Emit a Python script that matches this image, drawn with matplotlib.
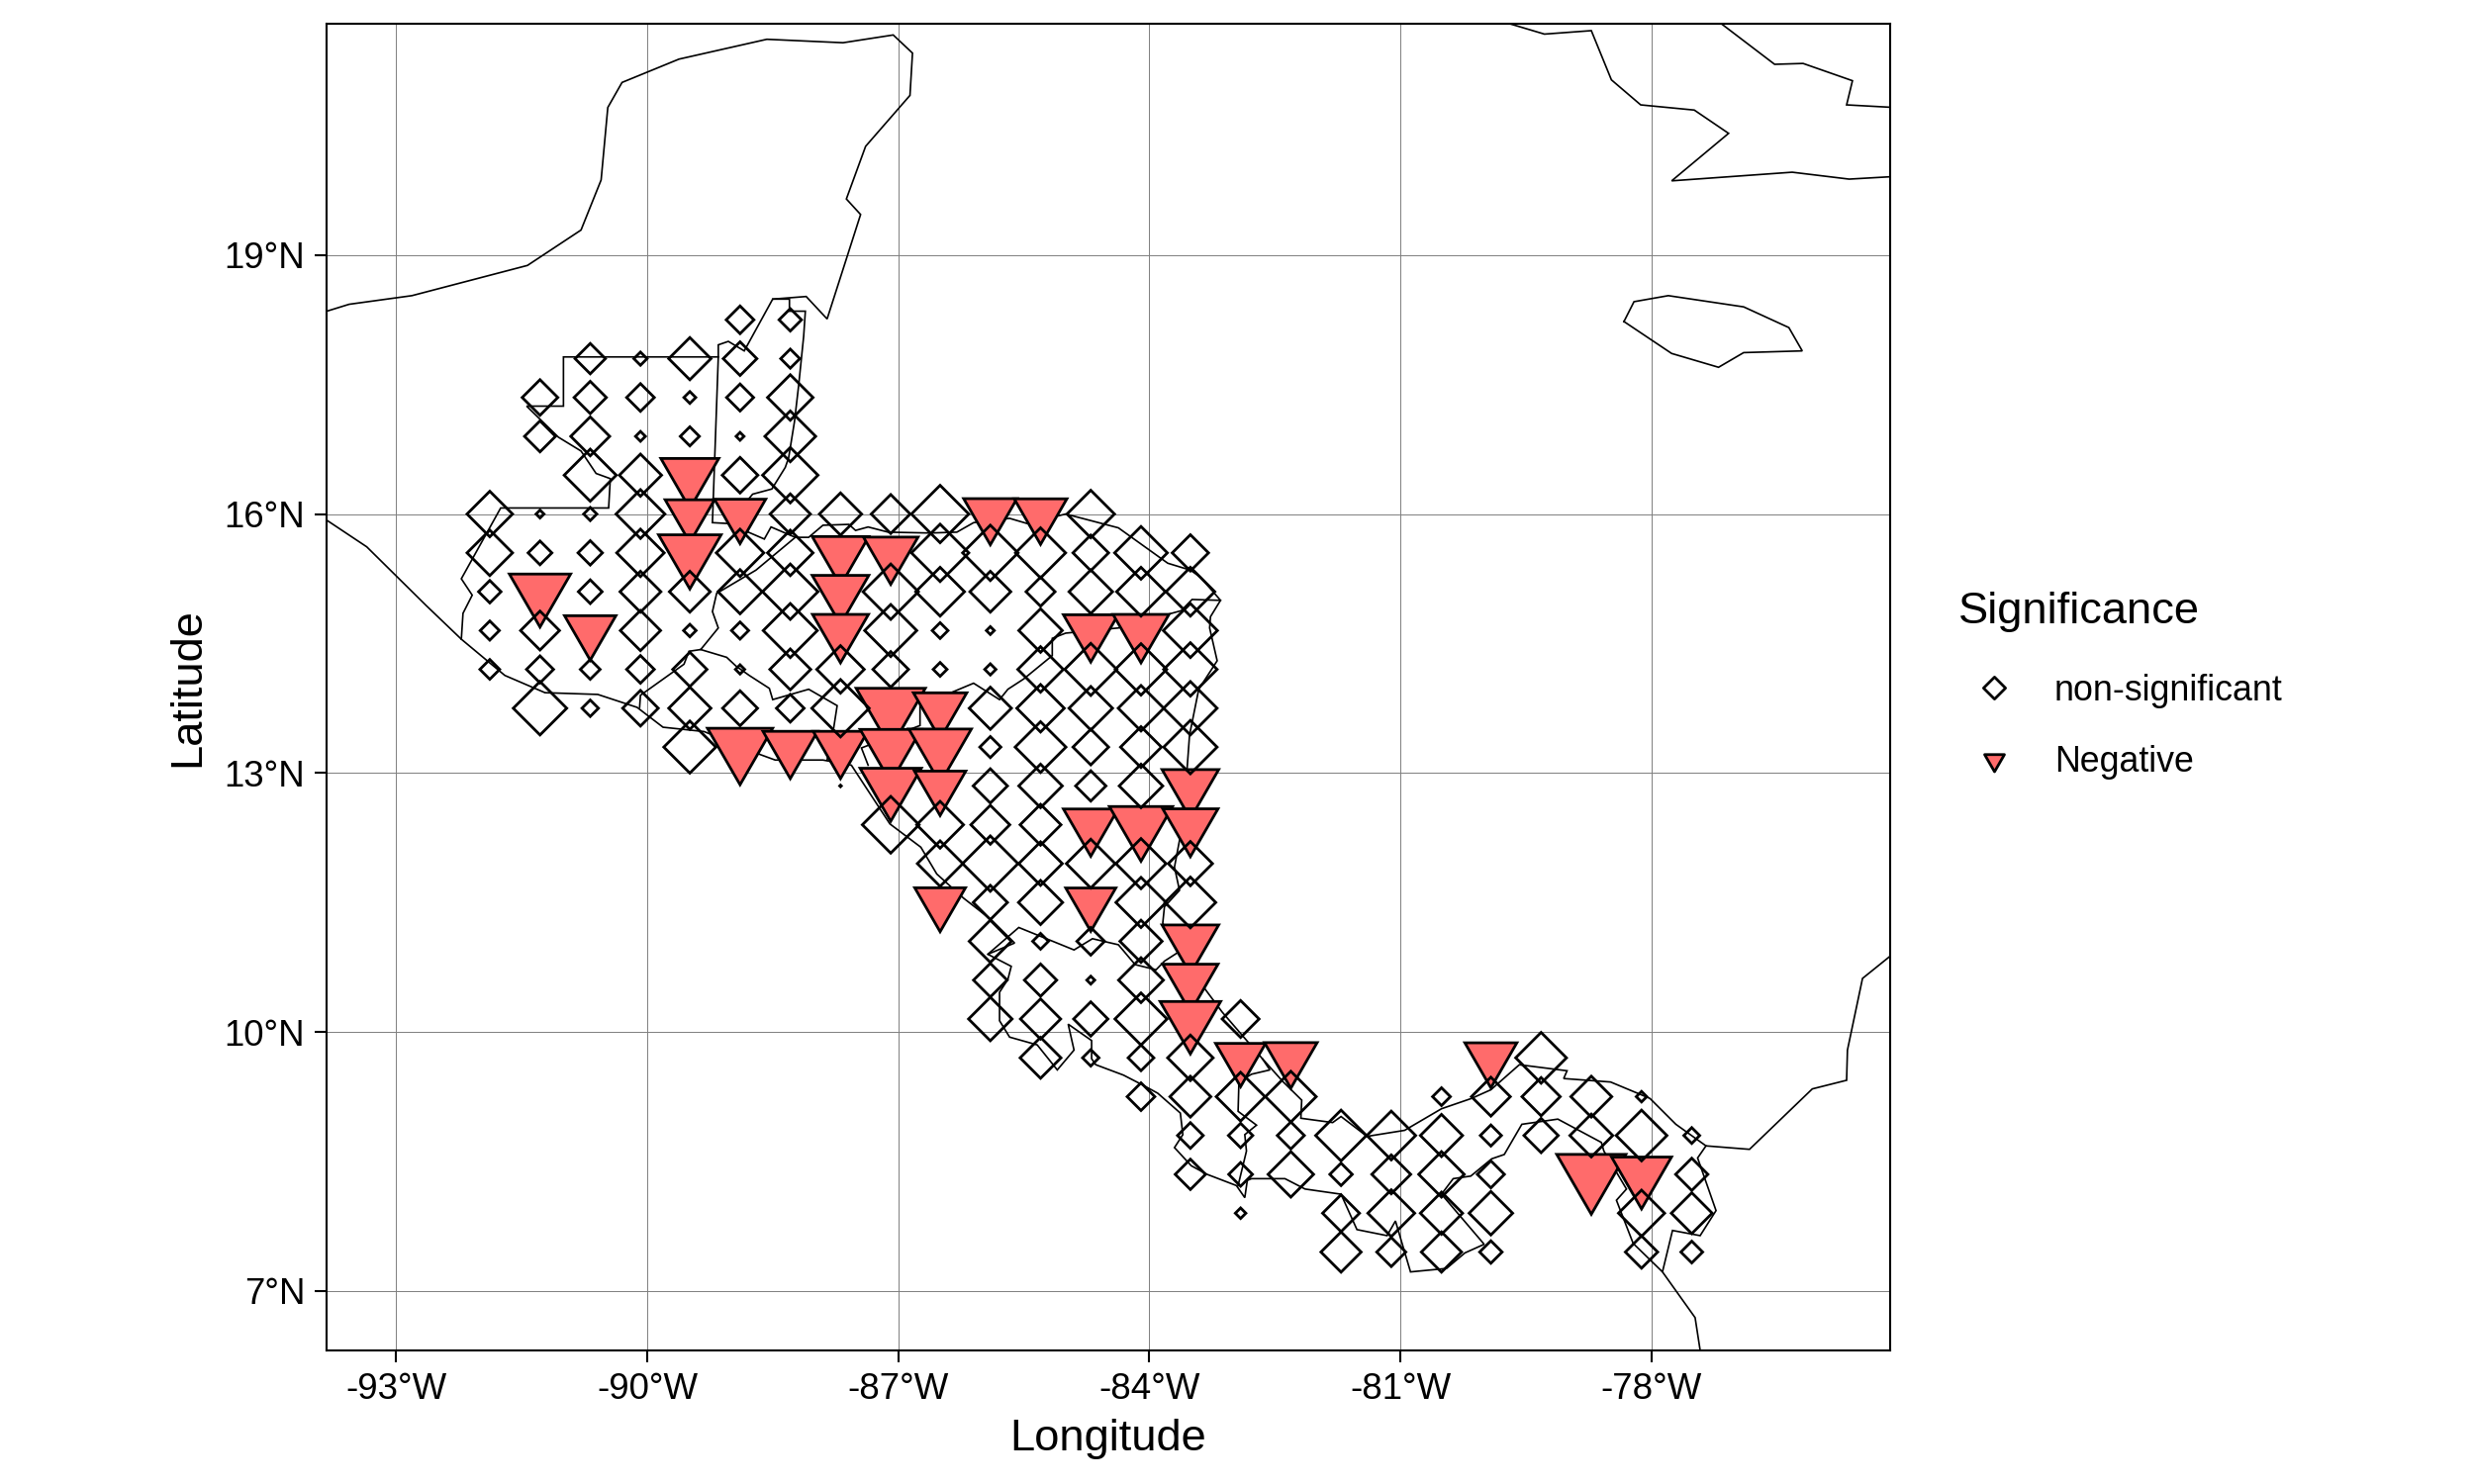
import matplotlib
matplotlib.use("Agg")
import matplotlib.pyplot as plt
from matplotlib.lines import Line2D
from matplotlib.path import Path

plt.rcParams['font.family'] = ['Liberation Sans', 'DejaVu Sans']

# longitude of every grid column
col_lon = [-91.88, -91.28, -90.68, -90.08, -89.49, -88.89, -88.29, -87.69, -87.09,
           -86.50, -85.90, -85.30, -84.70, -84.10, -83.51, -82.91, -82.31, -81.71,
           -81.11, -80.51, -79.92, -79.32, -78.72, -78.12, -77.52]

# non-significant cells, one list per column
nonsig_lat = [
    [16.0, 15.55, 15.1, 14.65, 14.2],
    [17.35, 16.9, 16.0, 15.55, 14.65, 14.2, 13.75],
    [17.8, 17.35, 16.9, 16.45, 16.0, 15.55, 15.1, 14.2, 13.75],
    [17.8, 17.35, 16.9, 16.45, 16.0, 15.55, 15.1, 14.65, 14.2, 13.75],
    [17.8, 17.35, 16.9, 15.1, 14.65, 14.2, 13.75, 13.3],
    [18.25, 17.8, 17.35, 16.9, 16.45, 15.55, 15.1, 14.65, 14.2, 13.75],
    [18.25, 17.8, 17.35, 16.9, 16.45, 16.0, 15.55, 15.1, 14.65, 14.2, 13.75],
    [16.0, 14.2, 13.75, 12.85],
    [16.0, 15.1, 14.65, 14.2, 12.4],
    [16.0, 15.55, 15.1, 14.65, 14.2, 12.4, 11.95],
    [15.55, 15.1, 14.65, 14.2, 13.75, 13.3, 12.85, 12.4, 11.95, 11.5, 11.05, 10.6, 10.15],
    [15.55, 15.1, 14.65, 14.2, 13.75, 13.3, 12.85, 12.4, 11.95, 11.5, 11.05, 10.6, 10.15, 9.7],
    [16.0, 15.55, 15.1, 14.2, 13.75, 13.3, 12.85, 11.95, 11.05, 10.6, 10.15, 9.7],
    [15.55, 15.1, 14.2, 13.75, 13.3, 12.85, 11.95, 11.5, 11.05, 10.6, 10.15, 9.7, 9.25],
    [15.55, 15.1, 14.65, 14.2, 13.75, 13.3, 11.95, 11.5, 9.7, 9.25, 8.8, 8.35],
    [10.15, 9.25, 8.8, 8.35, 7.9],
    [9.25, 8.8, 8.35],
    [8.8, 8.35, 7.9, 7.45],
    [8.8, 8.35, 7.9, 7.45],
    [9.25, 8.8, 8.35, 7.9, 7.45],
    [9.25, 8.8, 8.35, 7.9, 7.45],
    [9.7, 9.25, 8.8],
    [9.25, 8.8],
    [9.25, 8.8, 7.9, 7.45],
    [8.8, 8.35, 7.9, 7.45],
]
nonsig_mag = [
    [75, 75, 40, 35, 36],
    [60, 53, 18, 42, 65, 47, 87],
    [52, 55, 65, 85, 26, 43, 42, 36, 31],
    [26, 48, 21, 70, 80, 78, 68, 67, 48, 60],
    [70, 24, 35, 68, 25, 58, 70, 85],
    [48, 57, 47, 18, 60, 78, 73, 32, 20, 59],
    [40, 35, 75, 83, 90, 67, 75, 90, 88, 68, 48],
    [70, 78, 93, 8],
    [65, 90, 85, 60, 92],
    [93, 93, 80, 30, 27, 77, 75],
    [90, 68, 18, 23, 70, 38, 58, 65, 90, 58, 70, 57, 72],
    [82, 50, 72, 75, 78, 83, 72, 68, 72, 73, 30, 55, 67, 68],
    [78, 60, 72, 85, 72, 60, 52, 80, 48, 18, 58, 31],
    [86, 80, 84, 75, 68, 72, 82, 82, 70, 74, 85, 45, 48],
    [61, 80, 88, 87, 87, 87, 73, 83, 75, 68, 45, 52],
    [62, 80, 43, 42, 22],
    [83, 47, 75],
    [83, 40, 62, 67],
    [80, 65, 77, 50],
    [33, 70, 75, 70, 67],
    [65, 38, 47, 72, 40],
    [83, 64, 58],
    [68, 71],
    [22, 83, 76, 55],
    [30, 55, 68, 39],
]

# cells with a negative trend
neg_lon = [-91.28, -90.68, -89.49, -89.49, -89.49, -88.89, -88.89, -88.29, -87.69, -87.69,
           -87.69, -87.69, -87.09, -87.09, -87.09, -87.09, -86.50, -86.50, -86.50, -86.50,
           -85.90, -85.30, -84.70, -84.70, -84.70, -84.10, -84.10, -83.51, -83.51, -83.51,
           -83.51, -83.51, -82.91, -82.31, -79.92, -78.72, -78.12]
neg_lat = [15.1, 14.65, 16.45, 16.0, 15.55, 16.0, 13.3, 13.3, 15.55, 15.1,
           14.65, 13.3, 15.55, 13.75, 13.3, 12.85, 13.75, 13.3, 12.85, 11.5,
           16.0, 16.0, 14.65, 12.4, 11.5, 14.65, 12.4, 12.85, 12.4, 11.05,
           10.6, 10.15, 9.7, 9.7, 9.7, 8.35, 8.35]
neg_mag = [100, 85, 95, 82, 102, 85, 106, 90, 93, 93,
           92, 90, 90, 112, 100, 100, 88, 102, 85, 84,
           88, 87, 90, 90, 83, 92, 103, 93, 91, 93,
           91, 99, 83, 87, 86, 112, 98]

# map outlines, (lon, lat)
mexico = [(-93.86, 18.34), (-93.56, 18.43), (-92.81, 18.53), (-91.43, 18.88), (-90.79, 19.29),
          (-90.55, 19.87), (-90.47, 20.71), (-90.30, 21.00), (-89.62, 21.27), (-88.57, 21.50),
          (-87.66, 21.46), (-87.06, 21.55), (-86.83, 21.34), (-86.86, 20.85), (-87.39, 20.26),
          (-87.62, 19.65), (-87.45, 19.47), (-87.85, 18.26), (-88.10, 18.52), (-88.50, 18.49),
          (-88.84, 17.89), (-89.03, 18.00), (-89.15, 17.96), (-89.15, 17.82), (-91.00, 17.82),
          (-91.00, 17.25), (-91.44, 17.25), (-91.06, 16.89), (-90.79, 16.73), (-90.61, 16.47),
          (-90.44, 16.41), (-90.46, 16.07), (-91.75, 16.07), (-92.22, 15.25), (-92.09, 15.06),
          (-92.20, 14.85), (-92.22, 14.55)]
pacific = [(-93.83, 15.93), (-93.35, 15.62), (-92.64, 14.94), (-92.22, 14.55), (-91.70, 14.13),
           (-91.22, 13.93), (-90.59, 13.91), (-90.12, 13.76), (-89.81, 13.53), (-89.32, 13.48),
           (-88.64, 13.21), (-88.47, 13.15), (-87.90, 13.15), (-87.56, 13.09), (-87.10, 12.41),
           (-86.73, 12.14), (-86.54, 11.83), (-86.22, 11.55), (-85.89, 11.30), (-85.61, 11.03),
           (-85.93, 10.90), (-85.65, 10.76), (-85.69, 10.61), (-85.79, 10.46), (-85.79, 10.13),
           (-85.67, 9.94), (-85.34, 9.85), (-85.10, 9.56), (-84.90, 9.79), (-84.97, 10.09),
           (-84.69, 9.90), (-84.69, 9.69), (-84.64, 9.62), (-84.31, 9.50), (-84.09, 9.39),
           (-83.90, 9.29), (-83.63, 9.06), (-83.60, 8.81), (-83.70, 8.66), (-83.50, 8.45),
           (-83.31, 8.35), (-82.96, 8.22), (-82.86, 8.08), (-82.83, 8.28), (-82.78, 8.30),
           (-82.38, 8.30), (-82.14, 8.18), (-81.71, 8.12), (-81.52, 7.71), (-81.16, 7.64),
           (-81.06, 7.81), (-80.88, 7.22), (-80.45, 7.26), (-80.23, 7.44), (-80.00, 7.54),
           (-80.51, 8.12), (-80.37, 8.30), (-80.16, 8.33), (-79.91, 8.53), (-79.76, 8.58),
           (-79.55, 8.93), (-79.12, 8.99), (-78.60, 8.72), (-78.57, 8.62), (-78.30, 8.18),
           (-78.42, 8.05), (-78.22, 7.55), (-77.87, 7.22), (-77.75, 7.70), (-77.42, 7.64),
           (-77.23, 7.93), (-77.45, 8.54), (-77.35, 8.68)]
colombia_west = [(-77.87, 7.22), (-77.48, 6.69), (-77.41, 6.25)]
caribbean = [(-75.16, 10.87), (-75.48, 10.62), (-75.66, 9.79), (-75.67, 9.44), (-76.08, 9.34),
             (-76.83, 8.64), (-77.35, 8.68), (-77.71, 8.93), (-78.02, 9.23), (-78.49, 9.42),
             (-79.05, 9.46), (-79.01, 9.55), (-79.58, 9.62), (-79.92, 9.33), (-80.15, 9.23),
             (-80.51, 9.11), (-80.95, 8.86), (-81.40, 8.79), (-81.71, 9.02), (-81.81, 8.95),
             (-82.19, 9.00), (-82.18, 9.21), (-82.40, 9.42), (-82.65, 9.69), (-83.13, 10.23),
             (-83.66, 10.92), (-83.84, 11.26), (-83.82, 11.45), (-83.64, 11.64), (-83.70, 11.91),
             (-83.64, 12.22), (-83.55, 13.04), (-83.52, 13.44), (-83.41, 13.97), (-83.19, 14.30),
             (-83.28, 14.68), (-83.27, 14.81), (-83.15, 15.00), (-83.39, 15.27), (-83.51, 15.35),
             (-83.78, 15.43), (-84.37, 15.84), (-85.00, 16.00), (-85.46, 15.89), (-85.67, 15.95),
             (-86.10, 15.90), (-86.30, 15.79), (-86.62, 15.78), (-87.12, 15.79), (-87.36, 15.85),
             (-87.51, 15.81), (-87.59, 15.88), (-87.90, 15.87), (-88.07, 15.73), (-88.23, 15.73),
             (-88.52, 15.85), (-88.60, 15.71), (-89.03, 15.89), (-89.22, 15.90), (-89.15, 17.82)]
belize = [(-88.50, 18.49), (-88.30, 18.49), (-88.30, 18.35), (-88.11, 18.35), (-88.13, 18.06),
          (-88.19, 17.49), (-88.24, 17.07), (-88.31, 16.65), (-88.35, 16.54), (-88.51, 16.29),
          (-88.74, 16.23), (-89.03, 15.89)]
guatemala_east = [(-88.23, 15.73), (-88.70, 15.35), (-89.17, 15.08), (-89.22, 14.87), (-89.15, 14.68),
                  (-89.36, 14.43), (-89.50, 14.41), (-89.56, 14.26), (-90.08, 13.90), (-90.09, 13.76)]
salvador = [(-89.36, 14.43), (-89.05, 14.34), (-88.94, 14.24), (-88.78, 14.13), (-88.54, 13.98),
            (-88.50, 13.85), (-88.07, 13.97), (-87.73, 13.78), (-87.77, 13.53), (-87.85, 13.15)]
honduras_south = [(-83.15, 15.00), (-83.49, 15.01), (-83.62, 14.88), (-84.37, 14.68), (-85.00, 14.62),
                  (-85.16, 14.56), (-85.16, 14.36), (-85.50, 14.09), (-85.69, 13.97), (-85.79, 13.85),
                  (-86.10, 14.04), (-86.74, 13.78), (-86.74, 13.55), (-87.44, 13.29), (-87.36, 13.09)]
costa_rica_north = [(-85.93, 10.90), (-85.56, 11.21), (-84.90, 10.95), (-84.68, 11.08), (-84.37, 11.01),
                    (-84.17, 10.78), (-83.92, 10.72), (-83.82, 10.82), (-83.66, 10.92)]
costa_rica_east = [(-82.94, 8.22), (-82.84, 8.62), (-82.86, 8.81), (-82.72, 8.92), (-82.94, 9.08),
                   (-82.93, 9.42), (-82.78, 9.51), (-82.56, 9.56), (-82.65, 9.69)]
cuba_south = [(-79.73, 21.69), (-79.28, 21.56), (-78.72, 21.60), (-78.48, 21.03), (-78.13, 20.74),
              (-77.49, 20.68), (-77.08, 20.41), (-77.76, 19.86), (-76.32, 19.96), (-75.64, 19.88),
              (-75.10, 19.91)]
cuba_east = [(-77.18, 21.69), (-76.53, 21.21), (-76.19, 21.22), (-75.60, 21.02), (-75.67, 20.74),
             (-75.10, 20.71)]
jamaica = [(-78.33, 18.23), (-78.21, 18.46), (-77.80, 18.53), (-76.90, 18.40), (-76.36, 18.16),
           (-76.20, 17.89), (-76.90, 17.87), (-77.20, 17.70), (-77.76, 17.86), (-78.33, 18.23)]
map_lines = [mexico, pacific, colombia_west, caribbean, belize, guatemala_east, salvador,
             honduras_south, costa_rica_north, costa_rica_east, cuba_south, cuba_east, jamaica]

lon_ticks = [-93, -90, -87, -84, -81, -78]
lon_labels = ['-93°W', '-90°W', '-87°W', '-84°W', '-81°W', '-78°W']
lat_ticks = [7, 10, 13, 16, 19]
lat_labels = ['7°N', '10°N', '13°N', '16°N', '19°N']

DPI = 200
PX_TO_PT = 72 / DPI

# unit outlines, tips at +-1 so the marker is not rescaled oddly
diamond = Path([(0, 1), (1, 0), (0, -1), (-1, 0), (0, 1)], closed=True)
triangle = Path([(-0.866, 0.5), (0.866, 0.5), (0, -1), (-0.866, 0.5)], closed=True)


def diamond_size(mag):
    half = max(mag / 3 - 2.0, 0.8)
    return (2 * half * PX_TO_PT) ** 2


def triangle_size(mag):
    half = mag / 3 - 2.4
    return (half / 0.433 * PX_TO_PT) ** 2


fig = plt.figure(figsize=(12.5, 7.5), dpi=DPI)
ax = fig.add_axes([330 / 2500, 1 - 1365 / 1500, (1910 - 330) / 2500, (1365 - 24) / 1500])

for line in map_lines:
    ax.plot([p[0] for p in line], [p[1] for p in line], color='black', lw=0.6, zorder=2,
            solid_joinstyle='miter')

order = sorted(range(len(neg_lon)), key=lambda i: (neg_lon[i], -neg_lat[i]))
ax.scatter([neg_lon[i] for i in order], [neg_lat[i] for i in order],
           s=[triangle_size(neg_mag[i]) for i in order], marker=triangle,
           facecolor='#FF6B6B', edgecolor='black', linewidth=1.0, joinstyle='miter', zorder=3)

x, y, s = [], [], []
for lon, lats, mags in zip(col_lon, nonsig_lat, nonsig_mag):
    for lat, mag in zip(lats, mags):
        x.append(lon)
        y.append(lat)
        s.append(diamond_size(mag))
ax.scatter(x, y, s=s, marker=diamond, facecolor='none', edgecolor='black', linewidth=1.0,
           joinstyle='miter', zorder=4)

ax.set_xlim(-93.83, -75.15)
ax.set_ylim(6.31, 21.68)
ax.set_xticks(lon_ticks)
ax.set_xticklabels(lon_labels)
ax.set_yticks(lat_ticks)
ax.set_yticklabels(lat_labels)
ax.grid(True, color='#7f7f7f', lw=0.35)
ax.set_axisbelow(True)
ax.tick_params(length=4.3, width=0.75, labelsize=13.2, pad=3.5, color='black')
for sp in ax.spines.values():
    sp.set_linewidth(0.75)
ax.set_xlabel('Longitude', fontsize=16.3, labelpad=4.5)
ax.set_ylabel('Latitude', fontsize=16.3, labelpad=6)

handles = [
    Line2D([], [], ls='none', marker=diamond, ms=8.0, mfc='none', mec='black', mew=1.0),
    Line2D([], [], ls='none', marker=triangle, ms=8.3, mfc='#FF6B6B', mec='black', mew=1.0),
]
leg = ax.legend(handles, ['non-significant', 'Negative'], title='Significance', frameon=False,
                loc='upper left', bbox_to_anchor=(1979 / 2500, 1 - 598 / 1500),
                bbox_transform=fig.transFigure, fontsize=12.9, title_fontsize=16.3,
                alignment='left', borderpad=0, borderaxespad=0, handletextpad=0.7,
                handlelength=2.0, labelspacing=1.05)
leg._legend_box.sep = 15

fig.savefig('out.png', dpi=DPI, facecolor='white')
